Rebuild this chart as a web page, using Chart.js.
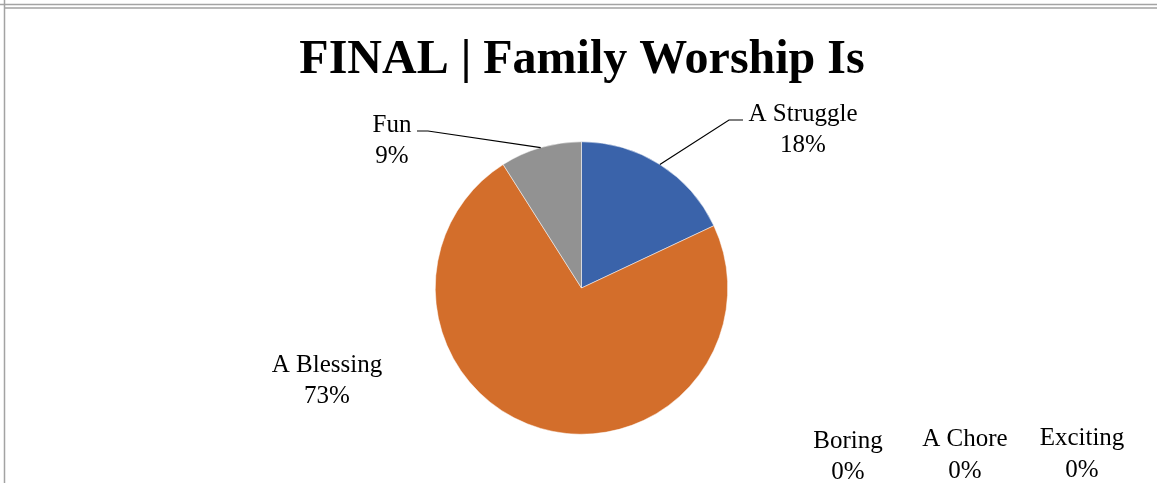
<!DOCTYPE html>
<html>
<head>
<meta charset="utf-8">
<title>FINAL | Family Worship Is</title>
<script src="https://cdn.jsdelivr.net/npm/chart.js@4/dist/chart.umd.min.js"></script>
<style>
    html, body { margin: 0; padding: 0; background: #fff; }
    #wrap { position: relative; width: 1157px; height: 483px; }
</style>
</head>
<body>
<div id="wrap"><canvas id="worshipChart"></canvas></div>
<script>
// Survey answers (percent of responses)
var categories = ['A Struggle', 'A Blessing', 'Fun', 'Boring', 'A Chore', 'Exciting'];
var percents = [18, 73, 9, 0, 0, 0];
var sliceColors = ['#3A63AA', '#D36E2B', '#929292', '#F2C000', '#5A9BD5', '#70AD47'];

// where each data label sits: [centerX, baselineY of name], and optional leader elbow
var labelSpots = [
    { x: 803, y: 121, elbow: [729, 120], tail: [743, 120] },
    { x: 327, y: 372 },
    { x: 392, y: 132, elbow: [428, 131], tail: [417, 131] },
    { x: 848, y: 448, pctY: 479 },
    { x: 965, y: 446, pctY: 478 },
    { x: 1082, y: 445, pctY: 477 }
];

var serif = "'Liberation Serif', 'Times New Roman', Times, serif";

// Frame, title and data labels
var decorations = {
    id: 'decorations',
    beforeDraw: function (chart) {
        var c = chart.ctx;
        c.save();
        c.fillStyle = '#fff';
        c.fillRect(0, 0, chart.width, chart.height);
        c.strokeStyle = '#A3A3A3';
        c.lineWidth = 1.5;
        c.beginPath();
        c.moveTo(0, 4.5); c.lineTo(chart.width, 4.5);
        c.moveTo(4.5, 8); c.lineTo(chart.width, 8);
        c.moveTo(4.5, 0); c.lineTo(4.5, chart.height);
        c.stroke();
        c.restore();
    },
    afterDatasetsDraw: function (chart) {
        var c = chart.ctx;
        var meta = chart.getDatasetMeta(0);
        c.save();
        c.fillStyle = '#000';
        c.textAlign = 'center';
        c.textBaseline = 'alphabetic';
        c.font = 'bold 48px ' + serif;
        c.fillText('FINAL | Family Worship Is', 582, 73);

        c.font = '25px ' + serif;
        meta.data.forEach(function (arc, i) {
            var spot = labelSpots[i];
            var pct = chart.data.datasets[0].data[i] + '%';
            c.fillText(chart.data.labels[i], spot.x, spot.y);
            c.fillText(pct, spot.x, spot.pctY || spot.y + 31);
            if (spot.elbow) {
                var p = arc.getProps(['x', 'y', 'startAngle', 'endAngle', 'outerRadius'], true);
                var mid = (p.startAngle + p.endAngle) / 2;
                c.strokeStyle = '#000';
                c.lineWidth = 1.2;
                c.beginPath();
                c.moveTo(p.x + Math.cos(mid) * p.outerRadius, p.y + Math.sin(mid) * p.outerRadius);
                c.lineTo(spot.elbow[0], spot.elbow[1]);
                c.lineTo(spot.tail[0], spot.tail[1]);
                c.stroke();
            }
        });
        c.restore();
    }
};

var ctx = document.getElementById('worshipChart').getContext('2d');
var worshipChart = new Chart(ctx, {
    type: 'pie',
    data: {
        labels: categories,
        datasets: [{
            data: percents,
            backgroundColor: sliceColors,
            borderColor: '#fff',
            borderWidth: 0.5
        }]
    },
    options: {
        responsive: true,
        maintainAspectRatio: false,
        animation: false,
        layout: {
            padding: { left: 435, right: 429, top: 141, bottom: 48 }
        },
        plugins: {
            legend: { display: false },
            title: { display: false },
            tooltip: { enabled: false }
        }
    },
    plugins: [decorations]
});
</script>
</body>
</html>
